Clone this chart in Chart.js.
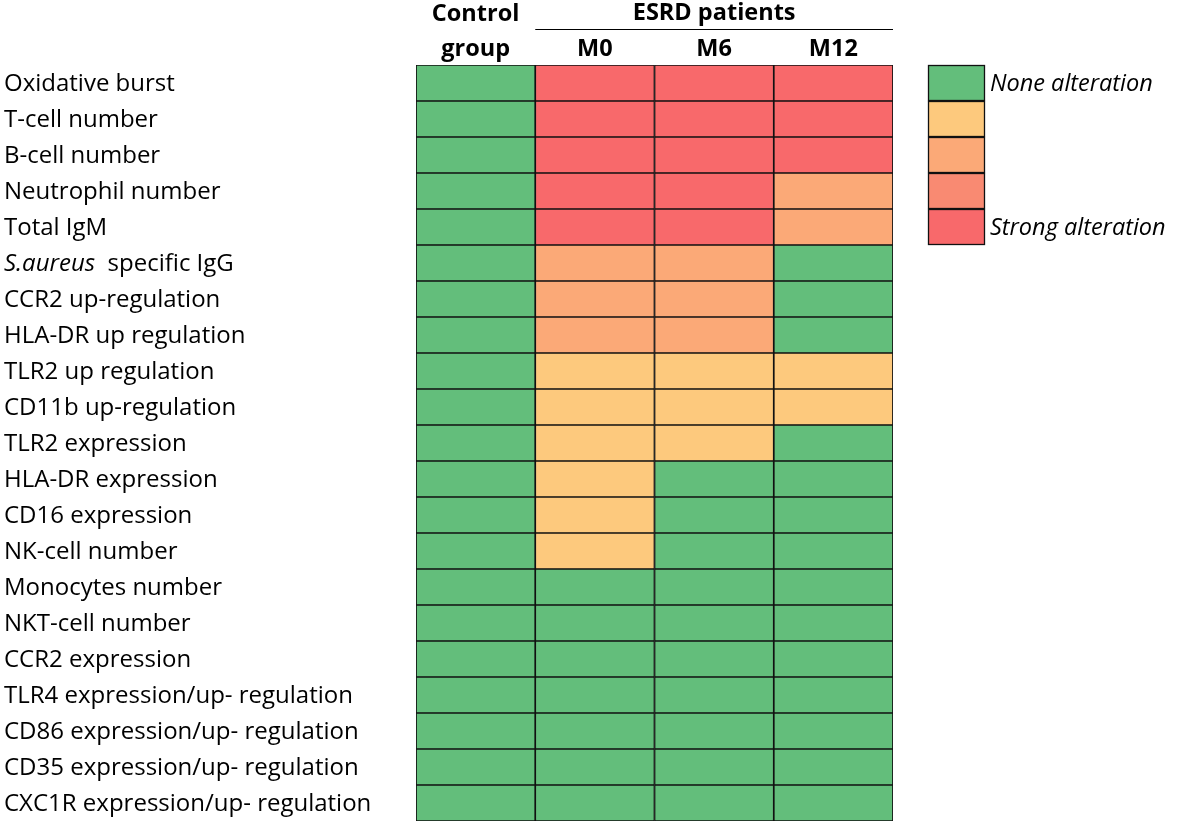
<!DOCTYPE html>
<html>
<head>
<meta charset="utf-8">
<script src="https://cdn.jsdelivr.net/npm/chart.js@4.4.1/dist/chart.umd.min.js"></script>
<style>
html,body{margin:0;padding:0;background:#fff;}
#wrap{width:1181px;height:827px;position:relative;}
</style>
</head>
<body>
<div id="wrap"><canvas id="c" width="1181" height="827"></canvas></div>
<script>
// ---- data ----
const categories = [
  "Oxidative burst","T-cell number","B-cell number","Neutrophil number","Total IgM",
  "S.aureus  specific IgG","CCR2 up-regulation","HLA-DR up regulation","TLR2 up regulation",
  "CD11b up-regulation","TLR2 expression","HLA-DR expression","CD16 expression","NK-cell number",
  "Monocytes number","NKT-cell number","CCR2 expression","TLR4 expression/up- regulation",
  "CD86 expression/up- regulation","CD35 expression/up- regulation","CXC1R expression/up- regulation"
];
const columnLabels = ["Control group","M0","M6","M12"];
const groupLabel = "ESRD patients";
// alteration level: 0 = none ... 4 = strong
const controlLevels = [0,0,0,0,0,0,0,0,0,0,0,0,0,0,0,0,0,0,0,0,0];
const m0Levels      = [4,4,4,4,4,2,2,2,1,1,1,1,1,1,0,0,0,0,0,0,0];
const m6Levels      = [4,4,4,4,4,2,2,2,1,1,1,0,0,0,0,0,0,0,0,0,0];
const m12Levels     = [4,4,4,2,2,0,0,0,1,1,0,0,0,0,0,0,0,0,0,0,0];
const legendLevels  = [0,1,2,3,4];
const legendLabels  = ["None alteration","","","","Strong alteration"];
const levelColors   = ["#63BE7B","#FDC97D","#FBA977","#F98A72","#F8696B"];

const levelSets = [controlLevels, m0Levels, m6Levels, m12Levels];

const FONT = "'Open Sans', 'Liberation Sans', sans-serif";

const datasets = levelSets.map((lv, i) => ({
  label: columnLabels[i],
  data: lv.map(() => 1),
  backgroundColor: lv.map(l => levelColors[l]),
  borderColor: "#111",
  borderWidth: 1.2,
  borderSkipped: false,
  barPercentage: 1,
  categoryPercentage: 1
}));

const overlay = {
  id: "overlay",
  afterDraw(chart) {
    const ctx = chart.ctx;
    const ys = chart.scales.y, xs = chart.scales.x;
    ctx.save();
    // row labels
    ctx.fillStyle = "#000";
    ctx.textBaseline = "middle";
    ctx.textAlign = "left";
    categories.forEach((c, i) => {
      const y = ys.getPixelForValue(i) + 1;
      if (c.startsWith("S.aureus")) {
        ctx.font = "italic 24px " + FONT;
        ctx.fillText("S.aureus", 4, y);
        const w = ctx.measureText("S.aureus ").width;
        ctx.font = "24px " + FONT;
        ctx.fillText(" specific IgG", 4 + w, y);
      } else {
        ctx.font = "24px " + FONT;
        ctx.fillText(c, 4, y);
      }
    });
    // header
    ctx.font = "bold 23.5px " + FONT;
    ctx.textAlign = "center";
    ctx.textBaseline = "middle";
    const cx = i => (xs.getPixelForValue(i) + xs.getPixelForValue(i + 1)) / 2;
    ctx.fillText("Control", cx(0), 14);
    ctx.fillText("group", cx(0), 49);
    ctx.fillText(groupLabel, (xs.getPixelForValue(1) + xs.getPixelForValue(4)) / 2, 13);
    for (let i = 1; i < 4; i++) ctx.fillText(columnLabels[i], cx(i), 49);
    ctx.strokeStyle = "#000";
    ctx.lineWidth = 1;
    ctx.beginPath();
    ctx.moveTo(xs.getPixelForValue(1), 29.5);
    ctx.lineTo(xs.getPixelForValue(4), 29.5);
    ctx.stroke();
    // legend
    const lx = 928, lw = 57;
    legendLevels.forEach((l, i) => {
      const top = ys.getPixelForValue(i) - 18, h = 36;
      ctx.fillStyle = levelColors[l];
      ctx.fillRect(lx, top, lw, h);
      ctx.strokeStyle = "#111";
      ctx.lineWidth = 1.3;
      ctx.strokeRect(lx + 0.5, top + 0.5, lw - 1, h - 1);
      if (legendLabels[i]) {
        ctx.fillStyle = "#000";
        ctx.font = "italic 23.5px " + FONT;
        ctx.textAlign = "left";
        ctx.fillText(legendLabels[i], 990, top + 19);
      }
    });
    ctx.restore();
  }
};

new Chart(document.getElementById("c"), {
  type: "bar",
  data: { labels: categories, datasets },
  options: {
    indexAxis: "y",
    responsive: false,
    animation: false,
    layout: { padding: { left: 0, top: 65, right: 288, bottom: 6 } },
    plugins: { legend: { display: false }, tooltip: { enabled: false } },
    scales: {
      x: { stacked: true, min: 0, max: 4, display: false },
      y: {
        stacked: true,
        grid: { display: false },
        border: { display: false },
        ticks: { display: false },
        afterFit(scale) { scale.width = 416; }
      }
    }
  },
  plugins: [overlay]
});
</script>
</body>
</html>
